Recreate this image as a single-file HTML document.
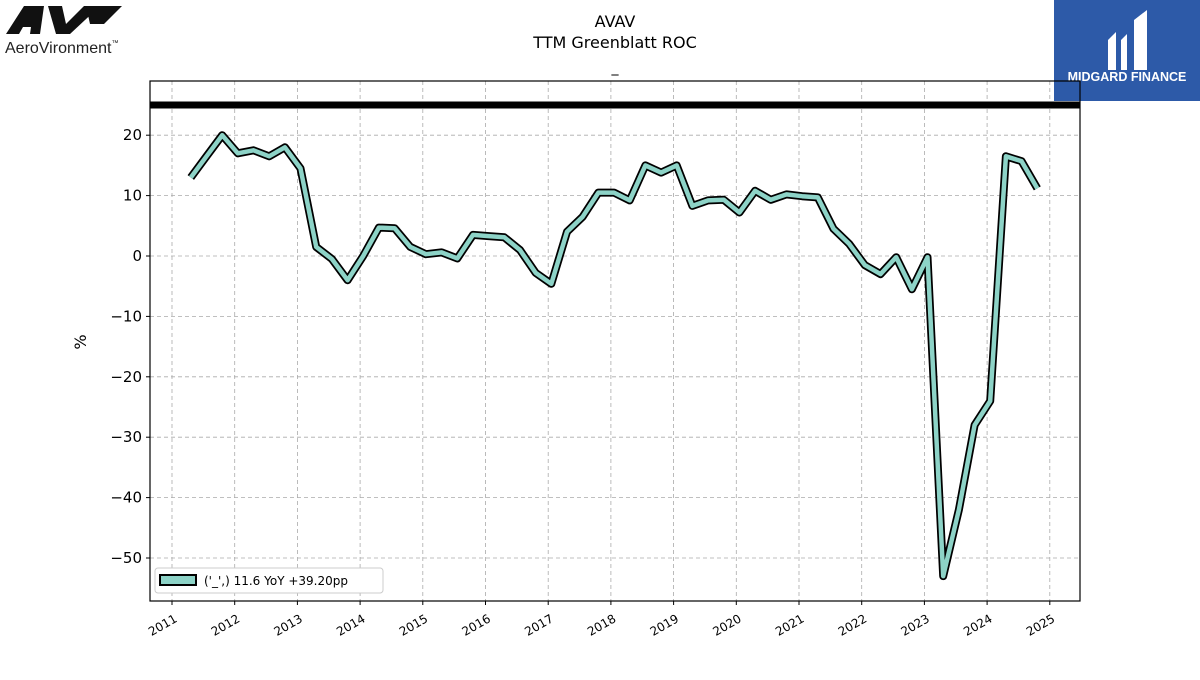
<!DOCTYPE html>
<html><head><meta charset="utf-8"><style>
body{margin:0;background:#fff;width:1200px;height:675px;overflow:hidden;font-family:"Liberation Sans","DejaVu Sans",sans-serif}
</style></head><body>
<svg id="chart" width="1200" height="675" xmlns="http://www.w3.org/2000/svg" font-family="'DejaVu Sans','Liberation Sans',sans-serif">
<g>
<polygon points="6,34 24,6 44,6 40,34 30,34 31,27 23,27 19,34" fill="#111"/>
<polygon points="48,6 62,6 66,24 84,6 100,6 70,34 56,34" fill="#111"/>
<polygon points="86,6 122,6 104,24 90,24" fill="#111"/>
<text x="5" y="53" font-size="16" fill="#222" font-family="'Liberation Sans',sans-serif">AeroVironment<tspan font-size="7" dy="-8">™</tspan></text>
</g>
<g>
<rect x="1054" y="0" width="146" height="101" fill="#2d5aa8"/>
<path d="M1108 40 L1116 32 L1116 70 L1108 70 Z M1121 40 L1127 34 L1127 70 L1121 70 Z M1134 20 L1147 10 L1147 70 L1134 70 Z" fill="#fff"/>
<text x="1127" y="81" font-size="12.5" font-weight="bold" fill="#fff" text-anchor="middle" font-family="'Liberation Sans',sans-serif">MIDGARD FINANCE</text>
</g>
<text x="615" y="27" font-size="16" text-anchor="middle">AVAV</text>
<text x="615" y="48" font-size="16" text-anchor="middle">TTM Greenblatt ROC</text>
<text x="615" y="72" font-size="14" text-anchor="middle">_</text>
<g id="grid"></g>
<g id="axes"></g>
<g id="series"></g>
<text x="0" y="0" font-size="16" transform="translate(86,342) rotate(-90)" text-anchor="middle">%</text>
<g>
<rect x="155" y="568" width="228" height="25" rx="3" fill="#fff" stroke="#ccc"/>
<rect x="160" y="575" width="36" height="10" fill="#8dd3c7" stroke="#000" stroke-width="2"/>
<text x="204" y="585" font-size="12">('_',) 11.6 YoY +39.20pp</text>
</g>
</svg>
<script>
const years=[2011,2012,2013,2014,2015,2016,2017,2018,2019,2020,2021,2022,2023,2024,2025];
const yTicks=[20,10,0,-10,-20,-30,-40,-50];
const startYear=2011.3;
const values=[13,16.5,20,17,17.5,16.5,18,14.5,1.5,-0.5,-4,0,4.7,4.6,1.5,0.3,0.6,-0.4,3.5,3.3,3.1,1,-2.8,-4.6,4,6.5,10.5,10.5,9.2,15,13.8,15,8.3,9.2,9.3,7.2,10.8,9.3,10.2,9.9,9.7,4.5,2,-1.5,-3,-0.2,-5.5,-0.2,-53,-42,-28,-24,16.5,15.7,11.2];
const refLine=[25];
const L=150,R=1080,T=81,B=601;
const xs=y=>172+(y-2011)*62.7;
const ys=v=>256-v*6.04;
const NS="http://www.w3.org/2000/svg";
function mk(tag,attrs,parent){const e=document.createElementNS(NS,tag);for(const k in attrs)e.setAttribute(k,attrs[k]);document.getElementById(parent).appendChild(e);return e;}
years.forEach(y=>{
 const l=mk('line',{x1:xs(y),x2:xs(y),y1:T,y2:B,stroke:'#aaa','stroke-dasharray':'4,3','stroke-width':0.8},'grid');
 
 
 mk('line',{x1:xs(y),x2:xs(y),y1:B,y2:B+4,stroke:'#000'},'axes');
 const t=mk('text',{x:0,y:0,'font-size':12,'text-anchor':'end',transform:`translate(${xs(y)+6},${B+20}) rotate(-30)`},'axes');
 t.textContent=y;
 
 
});
yTicks.forEach(v=>{
 const l=mk('line',{x1:L,x2:R,y1:ys(v),y2:ys(v),stroke:'#aaa','stroke-dasharray':'4,3','stroke-width':0.8},'grid');
 
 
 mk('line',{x1:L-4,x2:L,y1:ys(v),y2:ys(v),stroke:'#000'},'axes');
 const t=mk('text',{x:L-8,y:ys(v)+5,'font-size':15,'text-anchor':'end'},'axes');
 t.textContent=(v<0?'\u2212'+(-v):v);
 
 
});
const fr=mk('rect',{x:L,y:T,width:R-L,height:B-T,fill:'none',stroke:'#000','stroke-width':1.2},'axes');


const rl=mk('line',{x1:L,x2:R,y1:ys(refLine[0]),y2:ys(refLine[0]),stroke:'#000','stroke-width':7},'series');


const pts=values.map((v,i)=>xs(startYear+i*0.25).toFixed(1)+','+ys(v).toFixed(1)).join(' ');
const o=mk('polyline',{points:pts,fill:'none',stroke:'#000','stroke-width':8,'stroke-linejoin':'round'},'series');


const p=mk('polyline',{points:pts,fill:'none',stroke:'#8dd3c7','stroke-width':4.5,'stroke-linejoin':'round'},'series');


</script>
</body></html>
